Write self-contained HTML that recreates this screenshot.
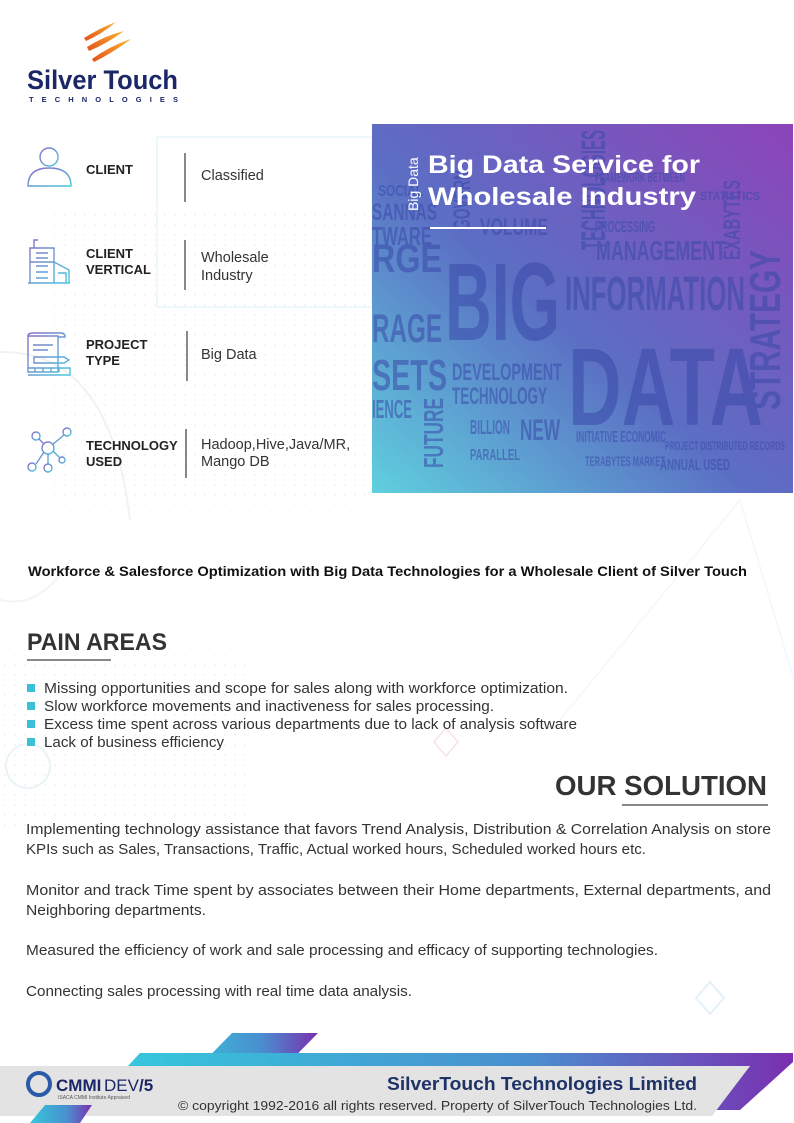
<!DOCTYPE html>
<html><head><meta charset="utf-8"><style>
html,body{margin:0;padding:0;background:#fff}
svg{display:block}
text{font-family:"Liberation Sans",sans-serif}
</style></head><body>
<svg width="794" height="1123" viewBox="0 0 794 1123" xmlns="http://www.w3.org/2000/svg">
<defs>
<linearGradient id="bd" x1="0" y1="1" x2="1" y2="0">
<stop offset="0" stop-color="#5fd0de"/><stop offset="0.45" stop-color="#5b6fc4"/><stop offset="1" stop-color="#8d44b8"/>
</linearGradient>
<linearGradient id="bar" x1="0" y1="0" x2="1" y2="0">
<stop offset="0" stop-color="#36c6dc"/><stop offset="0.6" stop-color="#4a8fcf"/><stop offset="1" stop-color="#7a2fb0"/>
</linearGradient>
<linearGradient id="ic" x1="0" y1="0" x2="1" y2="1">
<stop offset="0" stop-color="#8a6cc8"/><stop offset="1" stop-color="#48c8dc"/>
</linearGradient>
<linearGradient id="fl" x1="1" y1="0" x2="0" y2="1">
<stop offset="0" stop-color="#f7b531"/><stop offset="1" stop-color="#e5501b"/>
</linearGradient>
<pattern id="dots" width="10" height="10" patternUnits="userSpaceOnUse"><circle cx="5" cy="5" r="1" fill="#f1f2f5"/></pattern>
</defs>
<!-- background decoration -->
<rect x="55" y="205" width="320" height="300" fill="url(#dots)"/>
<rect x="0" y="655" width="250" height="180" fill="url(#dots)"/>
<rect x="157" y="137" width="215" height="170" fill="none" stroke="#eef8fb" stroke-width="2"/>
<path d="M0 352 Q110 350 130 520" fill="none" stroke="#f3f0f7" stroke-width="2"/>
<path d="M0 600 Q40 610 70 560" fill="none" stroke="#f3f4f8" stroke-width="2"/>
<path d="M560 720 L740 500 L794 680" fill="none" stroke="#f3f7fa" stroke-width="1.5"/>
<path d="M446 728 l12 14 -12 14 -12 -14z" fill="none" stroke="#f6e4e0" stroke-width="1.5"/>
<path d="M710 982 l14 16 -14 16 -14 -16z" fill="none" stroke="#e3f1f8" stroke-width="2"/>
<circle cx="28" cy="766" r="22" fill="none" stroke="#eaf3f7" stroke-width="2"/>

<!-- logo -->
<path d="M84 38 Q100 28 116 22 Q102 34 86 41z" fill="url(#fl)"/>
<path d="M87 47 Q104 36 124 31 Q108 43 89 51z" fill="url(#fl)"/>
<path d="M92 59 Q110 46 131 39 Q114 52 94 62z" fill="url(#fl)"/>
<text x="27" y="89" font-size="27" font-weight="bold" fill="#1c2768" textLength="151" lengthAdjust="spacingAndGlyphs">Silver Touch</text>
<text x="29" y="102" font-size="7.5" font-weight="bold" fill="#1c2768" textLength="149" lengthAdjust="spacing">TECHNOLOGIES</text>

<!-- info icons -->
<g fill="none" stroke="url(#ic)" stroke-width="1.4">
<circle cx="49" cy="157" r="9"/><path d="M28 186 Q28 168 49 168 Q71 168 71 186 Z"/>
<path d="M30 283 V248 H54 V283 M30 262 H54 M36 253 h12 M36 258 h12 M36 266 h12 M36 272 h12 M36 278 h12 M54 262 L69 270 V283 H54 M58 273 h8 v10 M28 283 h42 M34 248 v-8 h4"/>
<path d="M28 336 H58 V372 H28 Z M28 336 q0 -3 5 -3 h28 q4 0 4 4 h-7 M33 345 h20 M33 350 h15 M34 357 h30 l5 3 -5 3 h-30z M28 368 h42 v7 h-42 M35 368 v4 M43 368 v4 M51 368 v4 M59 368 v4"/>
<circle cx="48" cy="448" r="6"/><circle cx="36" cy="436" r="4"/><circle cx="67" cy="432" r="4"/><circle cx="32" cy="467" r="4"/><circle cx="48" cy="468" r="4"/><circle cx="62" cy="460" r="3"/>
<path d="M39 439 L44 444 M64 435 L52 445 M36 464 L44 452 M48 454 V464 M53 451 L60 458"/>
</g>
<g font-size="13" font-weight="bold" fill="#222">
<text x="86" y="174">CLIENT</text>
<text x="86" y="258">CLIENT</text><text x="86" y="274">VERTICAL</text>
<text x="86" y="349">PROJECT</text><text x="86" y="365">TYPE</text>
<text x="86" y="450">TECHNOLOGY</text><text x="86" y="466">USED</text>
</g>
<g stroke="#888" stroke-width="2">
<line x1="185" y1="153" x2="185" y2="202"/><line x1="185" y1="240" x2="185" y2="290"/>
<line x1="187" y1="331" x2="187" y2="381"/><line x1="186" y1="429" x2="186" y2="478"/>
</g>
<g font-size="14.5" fill="#333">
<text x="201" y="180">Classified</text>
<text x="201" y="262">Wholesale</text><text x="201" y="280">Industry</text>
<text x="201" y="359">Big Data</text>
<text x="201" y="449">Hadoop,Hive,Java/MR,</text><text x="201" y="466">Mango DB</text>
</g>

<!-- big data image -->
<rect x="372" y="124" width="421" height="369" fill="url(#bd)"/>
<g fill="#3a4aa8" opacity="0.55" font-weight="bold">
<text x="445" y="340" font-size="110" textLength="115" lengthAdjust="spacingAndGlyphs">BIG</text>
<text x="568" y="425" font-size="110" textLength="195" lengthAdjust="spacingAndGlyphs">DATA</text>
<text x="565" y="310" font-size="48" textLength="180" lengthAdjust="spacingAndGlyphs">INFORMATION</text>
<text x="596" y="260" font-size="28" textLength="130" lengthAdjust="spacingAndGlyphs">MANAGEMENT</text>
<text x="452" y="380" font-size="24" textLength="110" lengthAdjust="spacingAndGlyphs">DEVELOPMENT</text>
<text x="452" y="404" font-size="24" textLength="95" lengthAdjust="spacingAndGlyphs">TECHNOLOGY</text>
<text x="372" y="272" font-size="40" textLength="70" lengthAdjust="spacingAndGlyphs">RGE</text>
<text x="372" y="342" font-size="40" textLength="70" lengthAdjust="spacingAndGlyphs">RAGE</text>
<text x="372" y="390" font-size="44" textLength="75" lengthAdjust="spacingAndGlyphs">SETS</text>
<text x="372" y="418" font-size="26" textLength="40" lengthAdjust="spacingAndGlyphs">IENCE</text>
<text x="372" y="245" font-size="26" textLength="60" lengthAdjust="spacingAndGlyphs">TWARE</text>
<text x="372" y="220" font-size="24" textLength="65" lengthAdjust="spacingAndGlyphs">SANNAS</text>
<text x="378" y="196" font-size="16" textLength="45" lengthAdjust="spacingAndGlyphs">SOCIAL</text>
<text x="470" y="434" font-size="20" textLength="40" lengthAdjust="spacingAndGlyphs">BILLION</text>
<text x="520" y="440" font-size="30" textLength="40" lengthAdjust="spacingAndGlyphs">NEW</text>
<text x="576" y="442" font-size="16" textLength="90" lengthAdjust="spacingAndGlyphs">INITIATIVE ECONOMIC</text>
<text x="585" y="466" font-size="14" textLength="80" lengthAdjust="spacingAndGlyphs">TERABYTES MARKET</text>
<text x="470" y="460" font-size="16" textLength="50" lengthAdjust="spacingAndGlyphs">PARALLEL</text>
<text x="480" y="235" font-size="24" textLength="68" lengthAdjust="spacingAndGlyphs">VOLUME</text>
<text x="595" y="232" font-size="16" textLength="60" lengthAdjust="spacingAndGlyphs">PROCESSING</text>
<text x="595" y="182" font-size="14" textLength="90" lengthAdjust="spacingAndGlyphs">FRAMEWORK BETWEEN</text>
<text x="700" y="200" font-size="12" textLength="60" lengthAdjust="spacingAndGlyphs">STATISTICS</text>
<text x="665" y="450" font-size="12" textLength="120" lengthAdjust="spacingAndGlyphs">PROJECT DISTRIBUTED RECORDS</text>
<text x="660" y="470" font-size="16" textLength="70" lengthAdjust="spacingAndGlyphs">ANNUAL USED</text>
<text transform="translate(605 250) rotate(-90)" font-size="34" textLength="120" lengthAdjust="spacingAndGlyphs">TECHNOLOGIES</text>
<text transform="translate(780 410) rotate(-90)" font-size="44" textLength="160" lengthAdjust="spacingAndGlyphs">STRATEGY</text>
<text transform="translate(740 260) rotate(-90)" font-size="24" textLength="80" lengthAdjust="spacingAndGlyphs">EXABYTES</text>
<text transform="translate(443 468) rotate(-90)" font-size="28" textLength="70" lengthAdjust="spacingAndGlyphs">FUTURE</text>
<text transform="translate(470 230) rotate(-90)" font-size="24" textLength="60" lengthAdjust="spacingAndGlyphs">GOVERN</text>
</g>
<text transform="translate(418 211) rotate(-90)" font-size="14" fill="#fff">Big Data</text>
<text x="428" y="173" font-size="25" font-weight="bold" fill="#fff" textLength="272" lengthAdjust="spacingAndGlyphs">Big Data Service for</text>
<text x="428" y="205" font-size="25" font-weight="bold" fill="#fff" textLength="268" lengthAdjust="spacingAndGlyphs">Wholesale Industry</text>
<rect x="430" y="227" width="116" height="2" fill="#fff"/>

<!-- subtitle -->
<text x="28" y="576" font-size="13.5" font-weight="bold" fill="#111" textLength="719" lengthAdjust="spacingAndGlyphs">Workforce &amp; Salesforce Optimization with Big Data Technologies for a Wholesale Client of Silver Touch</text>

<!-- pain areas -->
<text x="27" y="650" font-size="24" font-weight="bold" fill="#333" textLength="140" lengthAdjust="spacingAndGlyphs">PAIN AREAS</text>
<rect x="27" y="659" width="84" height="2" fill="#888"/>
<g fill="#3cc0d6"><rect x="27" y="684" width="8" height="8"/><rect x="27" y="702" width="8" height="8"/><rect x="27" y="720" width="8" height="8"/><rect x="27" y="738" width="8" height="8"/></g>
<g font-size="14.5" fill="#333">
<text x="44" y="693" textLength="524" lengthAdjust="spacingAndGlyphs">Missing opportunities and scope for sales along with workforce optimization.</text>
<text x="44" y="711" textLength="450" lengthAdjust="spacingAndGlyphs">Slow workforce movements and inactiveness for sales processing.</text>
<text x="44" y="729" textLength="533" lengthAdjust="spacingAndGlyphs">Excess time spent across various departments due to lack of analysis software</text>
<text x="44" y="747" textLength="180" lengthAdjust="spacingAndGlyphs">Lack of business efficiency</text>
</g>

<!-- our solution -->
<text x="555" y="795" font-size="28" font-weight="bold" fill="#333" textLength="212" lengthAdjust="spacingAndGlyphs">OUR SOLUTION</text>
<rect x="622" y="804" width="146" height="2" fill="#888"/>
<g font-size="14.5" fill="#333">
<text x="26" y="834" textLength="745" lengthAdjust="spacingAndGlyphs">Implementing technology assistance that favors Trend Analysis, Distribution &amp; Correlation Analysis on store</text>
<text x="26" y="854" textLength="620" lengthAdjust="spacingAndGlyphs">KPIs such as Sales, Transactions, Traffic, Actual worked hours, Scheduled worked hours etc.</text>
<text x="26" y="895" textLength="745" lengthAdjust="spacingAndGlyphs">Monitor and track Time spent by associates between their Home departments, External departments, and</text>
<text x="26" y="915" textLength="180" lengthAdjust="spacingAndGlyphs">Neighboring departments.</text>
<text x="26" y="955" textLength="632" lengthAdjust="spacingAndGlyphs">Measured the efficiency of work and sale processing and efficacy of supporting technologies.</text>
<text x="26" y="996" textLength="386" lengthAdjust="spacingAndGlyphs">Connecting sales processing with real time data analysis.</text>
</g>

<!-- footer -->
<polygon points="232,1033 318,1033 262,1090 176,1090" fill="url(#bar)"/>
<polygon points="140,1053 793,1053 793,1062 740,1110 712,1110 750,1066 128,1066" fill="url(#bar)"/>
<polygon points="0,1066 750,1066 712,1116 0,1116" fill="#e3e3e3"/>
<polygon points="45,1105 92,1105 80,1123 30,1123" fill="url(#bar)"/>
<circle cx="39" cy="1084" r="11" fill="none" stroke="#2a5aa8" stroke-width="4"/>
<text x="56" y="1091" font-size="17" font-weight="bold" fill="#1c2768">CMMI</text>
<text x="104" y="1091" font-size="17" fill="#1c2768">DEV</text>
<text x="139" y="1091" font-size="17" font-weight="bold" fill="#1c2768">/5</text>
<text x="58" y="1099" font-size="5" fill="#555">ISACA CMMI Institute Appraised</text>
<text x="697" y="1090" font-size="18" font-weight="bold" fill="#1f3266" text-anchor="end" textLength="310" lengthAdjust="spacingAndGlyphs">SilverTouch Technologies Limited</text>
<text x="697" y="1110" font-size="13" fill="#333" text-anchor="end" textLength="519" lengthAdjust="spacingAndGlyphs">© copyright 1992-2016 all rights reserved. Property of SilverTouch Technologies Ltd.</text>
</svg>
</body></html>
